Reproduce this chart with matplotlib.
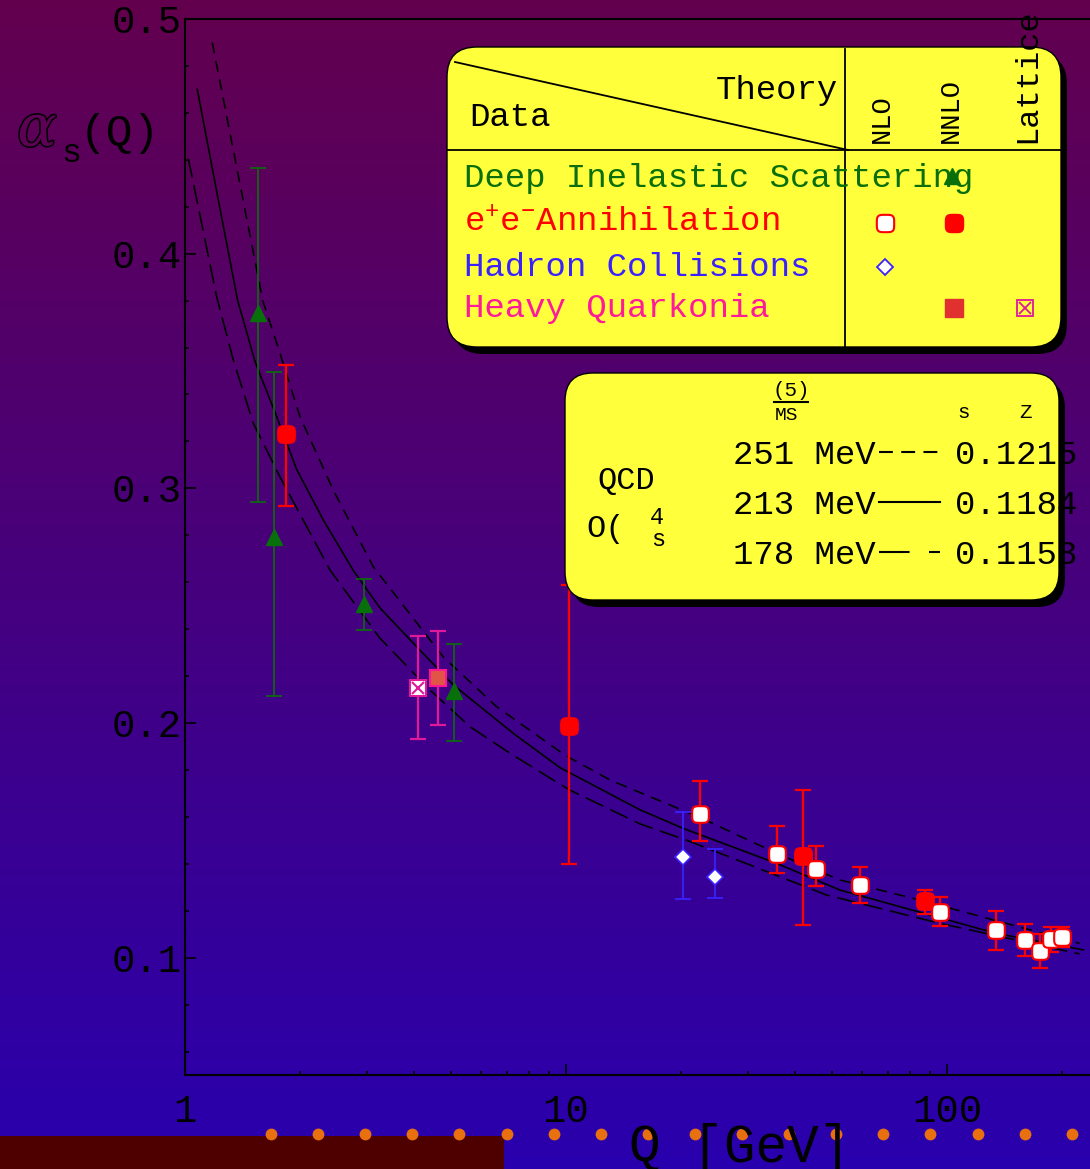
import numpy as np
import matplotlib.pyplot as plt
import matplotlib.patheffects as pe
from matplotlib.path import Path
from matplotlib.patches import FancyBboxPatch, Rectangle
from matplotlib.ticker import MultipleLocator, NullFormatter

plt.rcParams['font.family'] = ['Liberation Mono', 'DejaVu Sans Mono', 'DejaVu Sans']
plt.rcParams['lines.scale_dashes'] = False

W, H = 1090, 1169

# theory curves, Lambda = 251 / 213 / 178 MeV
up_q = [1.179, 1.6, 1.776, 2.004, 2.449, 3.12, 4.76, 6.58, 9.94, 13.05, 22.5, 35.9, 52.4, 87.5, 223]
up_a = [0.490, 0.380, 0.3575, 0.3305, 0.2993, 0.2666, 0.2282, 0.2069, 0.1863, 0.1757, 0.1597, 0.1443,
        0.1331, 0.124, 0.1061]
mid_q = [1.077, 1.216, 1.375, 1.527, 1.741, 1.965, 2.307, 2.765, 3.25, 4.14, 5.08, 7.27, 9.64,
         15.64, 20.3, 35.7, 52.4, 134.3, 228]
mid_a = [0.470, 0.425, 0.380, 0.354, 0.3305, 0.308, 0.2865, 0.265, 0.249, 0.231, 0.216, 0.1956,
         0.181, 0.163, 0.1551, 0.1402, 0.1288, 0.1104, 0.1033]
low_q = [1.02, 1.211, 1.339, 1.511, 1.775, 2.402, 3.25, 4.40, 5.6, 7.13, 9.26, 10.24, 15.64, 20.7, 48.3,
         95.9, 223]
low_a = [0.4406, 0.3816, 0.3547, 0.3277, 0.3049, 0.2652, 0.2361, 0.214, 0.1984, 0.1871, 0.1757, 0.1714,
         0.157, 0.1501, 0.1267, 0.1146, 0.1016]

# measurements: value, upper end, lower end of error bar
dis_q = [1.555, 1.709, 2.955, 5.08]
dis_a = [0.3747, 0.2794, 0.2509, 0.2137]
dis_hi = [0.4365, 0.3497, 0.2613, 0.2335]
dis_lo = [0.2941, 0.2115, 0.2398, 0.1924]

ee_nnlo_q = [1.841, 10.16, 41.8, 87.5]
ee_nnlo_a = [0.3231, 0.1988, 0.1434, 0.1240]
ee_nnlo_hi = [0.3525, 0.2588, 0.1716, 0.1290]
ee_nnlo_lo = [0.2924, 0.1398, 0.1139, 0.1185]

ee_nlo_q = [22.5, 35.9, 45.3, 59.2, 95.9, 134.3, 160.2, 175, 187, 200]
ee_nlo_a = [0.1611, 0.1440, 0.1376, 0.1310, 0.1196, 0.1117, 0.1076, 0.1030, 0.1078, 0.1089]
ee_nlo_hi = [0.1754, 0.1561, 0.1476, 0.1388, 0.1257, 0.1200, 0.1145, 0.1102, 0.1132, 0.1132]
ee_nlo_lo = [0.1496, 0.1362, 0.1304, 0.1233, 0.1136, 0.1031, 0.1007, 0.0956, 0.1024, 0.1044]

had_q = [20.3, 24.6]
had_a = [0.1430, 0.1345]
had_hi = [0.1619, 0.1462]
had_lo = [0.1250, 0.1255]

hq_q = [4.61]
hq_a = [0.219]
hq_hi = [0.2393]
hq_lo = [0.1991]

lat_q = [4.09]
lat_a = [0.2149]
lat_hi = [0.2369]
lat_lo = [0.1932]

yticks = [0.1, 0.2, 0.3, 0.4, 0.5]
xticks = [1, 10, 100]

GREEN = '#0a6e0a'
RED = '#ff0000'
BLUE = '#3a22ff'
PINK = '#ff1a9a'
YELLOW = '#ffff3c'
CAP = 5.8

# rounded-square marker like the original
t = np.linspace(0, 2 * np.pi, 65)
sq_x = np.sign(np.cos(t)) * np.abs(np.cos(t)) ** 0.5
sq_y = np.sign(np.sin(t)) * np.abs(np.sin(t)) ** 0.5
ROUND = Path(np.column_stack([sq_x, sq_y]), closed=True)


def yerr(a, hi, lo):
    return [np.array(a) - np.array(lo), np.array(hi) - np.array(a)]


fig = plt.figure(figsize=(W / 100, H / 100), dpi=100)

# background gradient
bg = fig.add_axes([0, 0, 1, 1], zorder=0)
top = np.array([0x63, 0x00, 0x4e]) / 255
bot = np.array([0x29, 0x00, 0xae]) / 255
f = np.linspace(0, 1, 256)[:, None]
grad = top[None, :] * (1 - f) + bot[None, :] * f
bg.imshow(grad[:, None, :], aspect='auto', extent=[0, 1, 0, 1])
bg.axis('off')

ax = fig.add_axes([185 / W, 1 - 1075 / H, 1 - 185 / W, (1075 - 19) / H], zorder=2)
ax.patch.set_alpha(0)
ax.set_xscale('log')
ax.set_xlim(1, 10 ** (905 / 381))
ax.set_ylim(0.05, 0.5)

ax.plot(up_q, up_a, color='black', lw=1.2, dashes=(8, 5.5))
ax.plot(mid_q, mid_a, color='black', lw=1.2)
ax.plot(low_q, low_a, color='black', lw=1.2, dashes=(14, 5.5))

ax.errorbar(dis_q, dis_a, yerr=yerr(dis_a, dis_hi, dis_lo), fmt='none',
            ecolor=GREEN, elinewidth=1.2, capsize=CAP, capthick=1.2)
ax.plot(dis_q, dis_a, '^', ms=12, color='#07700a', mec='#07700a')

ax.errorbar(lat_q, lat_a, yerr=yerr(lat_a, lat_hi, lat_lo), fmt='none',
            ecolor='#e0189a', elinewidth=1.6, capsize=CAP, capthick=1.6)
ax.plot(lat_q, lat_a, 's', ms=11, mfc='white', mec='#e0189a', mew=1.5)
ax.plot(lat_q, lat_a, 'x', ms=8, color='#e0189a', mew=1.5)

ax.errorbar(hq_q, hq_a, yerr=yerr(hq_a, hq_hi, hq_lo), fmt='none',
            ecolor='#e0189a', elinewidth=1.6, capsize=CAP, capthick=1.6)
ax.plot(hq_q, hq_a, 's', ms=11.5, mfc='#e05545', mec='#ff1493', mew=1.5)

ax.errorbar(had_q, had_a, yerr=yerr(had_a, had_hi, had_lo), fmt='none',
            ecolor=BLUE, elinewidth=1.3, capsize=CAP, capthick=1.3)
ax.plot(had_q, had_a, 'D', ms=8, mfc='white', mec=BLUE, mew=1.2)

ax.errorbar(ee_nnlo_q, ee_nnlo_a, yerr=yerr(ee_nnlo_a, ee_nnlo_hi, ee_nnlo_lo), fmt='none',
            ecolor=RED, elinewidth=1.6, capsize=CAP, capthick=1.6)
ax.plot(ee_nnlo_q, ee_nnlo_a, marker=ROUND, ls='none', ms=12.5, color=RED)

ax.errorbar(ee_nlo_q, ee_nlo_a, yerr=yerr(ee_nlo_a, ee_nlo_hi, ee_nlo_lo), fmt='none',
            ecolor=RED, elinewidth=1.6, capsize=CAP, capthick=1.6)
ax.plot(ee_nlo_q, ee_nlo_a, marker=ROUND, ls='none', ms=12, mfc='white', mec=RED, mew=1.5)

ax.set_yticks(yticks)
ax.set_yticklabels(['%.1f' % v for v in yticks])
ax.yaxis.set_minor_locator(MultipleLocator(0.02))
ax.set_xticks(xticks)
ax.set_xticklabels([str(v) for v in xticks])
ax.xaxis.set_minor_formatter(NullFormatter())
ax.tick_params(which='both', direction='in', width=1.2, colors='black')
ax.tick_params(which='major', length=8)
ax.tick_params(which='minor', length=3)
ax.tick_params(axis='y', labelsize=28, pad=2)
ax.tick_params(axis='x', labelsize=28, pad=14)
ax.spines['right'].set_visible(False)
for s in ['left', 'bottom', 'top']:
    ax.spines[s].set_linewidth(1.5)

# overlay in pixel coordinates for the boxes and labels
ov = fig.add_axes([0, 0, 1, 1], zorder=3)
ov.set_xlim(0, W)
ov.set_ylim(H, 0)
ov.axis('off')
ov.patch.set_alpha(0)


def box(x0, y0, x1, y1, r):
    ov.add_patch(FancyBboxPatch((x0 + 6, y0 + 7), x1 - x0, y1 - y0,
                                boxstyle=f'round,pad=0,rounding_size={r}',
                                fc='black', ec='none'))
    ov.add_patch(FancyBboxPatch((x0, y0), x1 - x0, y1 - y0,
                                boxstyle=f'round,pad=0,rounding_size={r}',
                                fc=YELLOW, ec='black', lw=1))


# legend table
box(447, 47, 1061, 347, 30)
ov.plot([455, 848], [62, 150], color='black', lw=1.3)
ov.plot([845, 845], [49, 347], color='black', lw=1.3)
ov.plot([447, 1061], [150, 150], color='black', lw=1.3)
ov.text(838, 90, 'Theory', fontsize=24.5, ha='right', va='center')
ov.text(469, 117, 'Data', fontsize=24.5, ha='left', va='center')
for lab, xx, fs in [('NLO', 882, 19.5), ('NNLO', 951, 19.5), ('Lattice', 1027, 23)]:
    ov.text(xx, 143, lab, fontsize=fs, rotation=90, ha='center', va='bottom')

rows = [('Deep Inelastic Scattering', GREEN, 178),
        ('$\\mathregular{e^{+}e^{-}}$Annihilation', RED, 223),
        ('Hadron Collisions', BLUE, 267),
        ('Heavy Quarkonia', PINK, 309)]
for lab, col, yy in rows:
    ov.text(464, yy, lab, fontsize=24.5, color=col, ha='left', va='center')

ov.plot(952, 176, '^', ms=12, color='#07700a')
ov.plot(885, 223, marker=ROUND, ms=12.5, mfc='white', mec=RED, mew=1.5)
ov.plot(954, 223, marker=ROUND, ms=13, color=RED)
ov.plot(885, 267, 'D', ms=8.5, mfc='white', mec=BLUE, mew=1.3)
ov.plot(954, 308, 's', ms=12.5, mfc='#e03030', mec='#e03030')
ov.plot(1025, 308, 's', ms=11.5, mfc='none', mec='#e0189a', mew=1.3)
ov.plot(1025, 308, 'x', ms=8, color='#e0189a', mew=1.3)

# QCD box
box(565, 373, 1059, 600, 28)
ov.text(791, 390, '(5)', fontsize=15, ha='center', va='center')
ov.plot([774, 808], [402, 402], color='black', lw=1.5)
ov.text(787, 415, 'MS', fontsize=14, ha='center', va='center')
ov.text(964, 413, 's', fontsize=15, ha='center', va='center')
ov.text(1025, 413, 'Z', fontsize=15, ha='center', va='center')
ov.text(597, 481, 'QCD', fontsize=23, ha='left', va='center')
ov.text(586, 529, 'O(', fontsize=23, ha='left', va='center')
ov.text(657, 518, '4', fontsize=17, ha='center', va='center')
ov.text(658, 539, 's', fontsize=17, ha='center', va='center')
lam_rows = [('251 MeV', '0.1215', 455, (10, 6)),
            ('213 MeV', '0.1184', 505, None),
            ('178 MeV', '0.1153', 555, (22, 14))]
for lam, als, yy, ds in lam_rows:
    ov.text(733, yy, lam, fontsize=24.5, ha='left', va='center')
    ov.text(955, yy, als, fontsize=24.5, ha='left', va='center')
    if ds is None:
        ov.plot([879, 940], [yy - 3, yy - 3], color='black', lw=1.5)
    else:
        ov.plot([879, 940], [yy - 3, yy - 3], color='black', lw=1.5, dashes=ds)

# axis labels
ov.text(37, 130, '\u03b1', fontsize=42, family='DejaVu Serif', style='italic',
        color='#5d0056', ha='center', va='center',
        path_effects=[pe.withStroke(linewidth=2.2, foreground='black')])
ov.text(71, 154, 's', fontsize=24, ha='center', va='center')
ov.text(80, 133, '(Q)', fontsize=32, ha='left', va='center')

# stray decorations along the bottom edge
ov.add_patch(Rectangle((0, 1136), 504, 40, fc='#4e0000', ec='none'))
dot_x = 271 + 47.1 * np.arange(18)
ov.plot(dot_x, np.full(len(dot_x), 1134), 'o', ms=8.5, color='#e8700e', mec='none')
ov.text(740, 1148, 'Q [GeV]', fontsize=38, ha='center', va='center')

fig.savefig('out.png', dpi=100)
